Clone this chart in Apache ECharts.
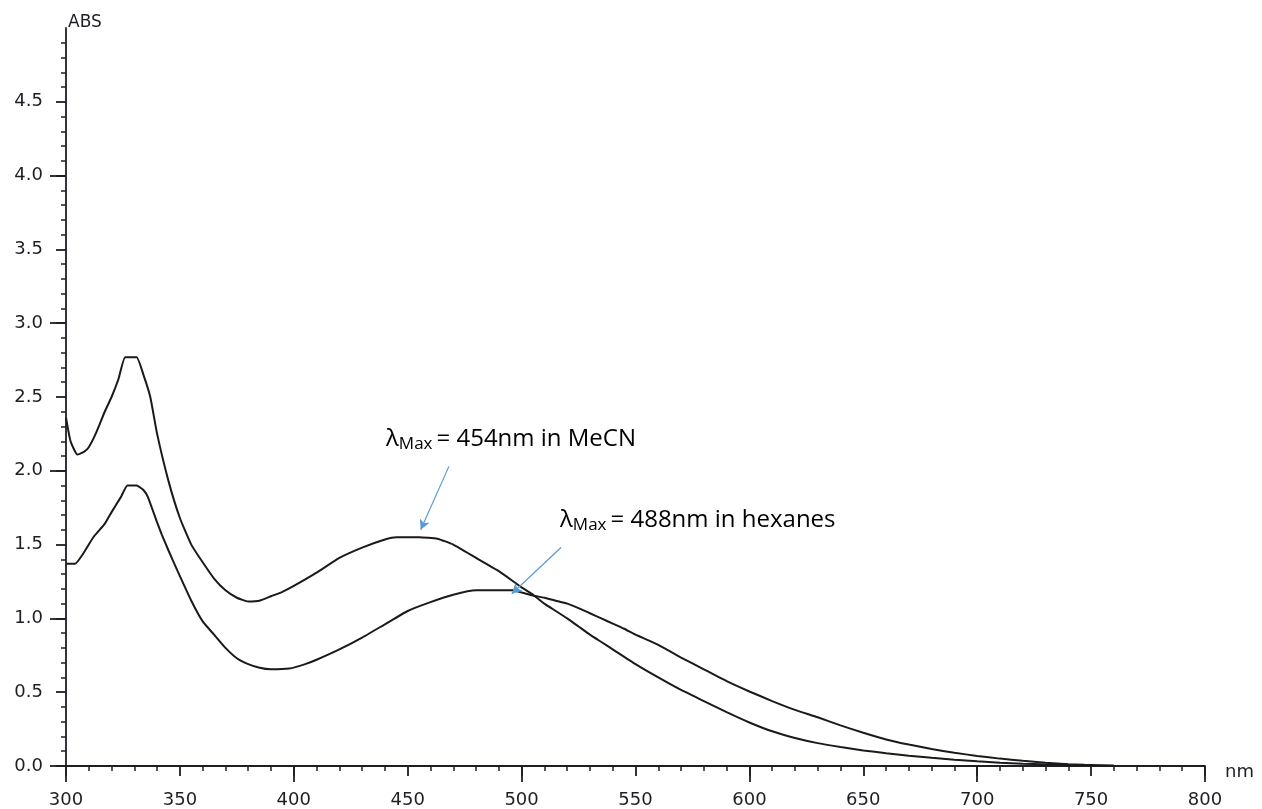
<!DOCTYPE html>
<html>
<head>
<meta charset="utf-8">
<script src="https://cdn.jsdelivr.net/npm/echarts@6/dist/echarts.min.js"></script>
<style>
html,body{margin:0;padding:0;background:#fff;}
#chart{width:1262px;height:809px;}
</style>
</head>
<body>
<div id="chart"></div>
<script>
// ---- data ----
const mecnNm  = [300,302,305,308,310,313,317,320,323,326,331,334,337,340,345,350,355,360,365,370,375,380,385,390,395,400,410,420,430,440,445,455,463,470,480,490,500,505,510,515,520,525,530,535,540,550,560,570,580,590,600,610,620,630,640,650,660,670,680,690,700,710,720,730,740,750,760];
const mecnAbs = [2.36,2.20,2.11,2.13,2.16,2.25,2.40,2.50,2.62,2.77,2.77,2.65,2.50,2.25,1.93,1.68,1.50,1.38,1.27,1.19,1.14,1.115,1.12,1.15,1.18,1.22,1.31,1.41,1.48,1.535,1.55,1.55,1.54,1.50,1.41,1.32,1.21,1.16,1.10,1.05,1.00,0.945,0.89,0.84,0.79,0.69,0.60,0.515,0.44,0.365,0.295,0.235,0.19,0.155,0.128,0.105,0.087,0.07,0.056,0.043,0.032,0.022,0.015,0.011,0.008,0.006,0.003];

const hexNm  = [300,304,308,312,317,320,324,327,331,334,336,340,342,345,349,355,360,365,370,375,380,385,390,398,405,410,420,430,440,450,460,470,480,490,496,500,505,510,515,520,525,530,535,540,545,550,556,560,570,580,590,600,610,620,630,640,650,660,670,680,690,700,710,720,730,740,747];
const hexAbs = [1.37,1.37,1.45,1.55,1.64,1.72,1.82,1.90,1.90,1.87,1.82,1.65,1.57,1.46,1.32,1.12,0.98,0.89,0.80,0.73,0.69,0.665,0.655,0.66,0.69,0.72,0.79,0.87,0.96,1.05,1.11,1.16,1.19,1.19,1.19,1.175,1.155,1.14,1.12,1.10,1.07,1.035,1.00,0.965,0.93,0.89,0.85,0.82,0.735,0.655,0.575,0.505,0.44,0.38,0.33,0.275,0.225,0.18,0.145,0.115,0.09,0.068,0.05,0.035,0.022,0.012,0.008];

const xTicksMajor = [300,400,500,600,700,800];
const yTicks = [0,0.5,1,1.5,2,2.5,3,3.5,4,4.5];
const yTicksMajor = [0,1,2,3,4];

// annotation arrows (data coordinates: [nm, abs])
const arrowMeCN = [[468.1, 2.03], [455.7, 1.60]];
const arrowHex  = [[517.3, 1.48], [495.7, 1.167]];
const labelMeCN = ['λ', 'Max', '= 454nm in MeCN'];
const labelHex  = ['λ', 'Max', '= 488nm in hexanes'];

// ---- chart ----
const INK = '#1e1e24';
const chart = echarts.init(document.getElementById('chart'), null, {renderer: 'canvas'});

function pairs(xs, ys) { return xs.map((x, i) => [x, ys[i]]); }

const richStyle = {
  l: {fontFamily: '"Open Sans", sans-serif', fontSize: 24, lineHeight: 28, color: '#111'},
  s: {fontFamily: '"Open Sans", sans-serif', fontSize: 17, lineHeight: 14, verticalAlign: 'bottom', color: '#111', padding: [0, 4, 0, 0]},
  m: {fontFamily: '"Open Sans", sans-serif', fontSize: 24, lineHeight: 28, color: '#111'}
};
function richText(parts) { return '{l|' + parts[0] + '}{s|' + parts[1] + '}{m|' + parts[2] + '}'; }

const arrowLine = (pts) => [{coord: pts[0]}, {coord: pts[1]}];

const baseX = {
  type: 'value', min: 300, max: 800, position: 'bottom',
  splitLine: {show: false}
};
const baseY = {
  type: 'value', min: 0, max: 5, position: 'left',
  splitLine: {show: false}
};

const option = {
  animation: false,
  backgroundColor: '#fff',
  grid: {left: 66, right: 57, top: 28, bottom: 43, containLabel: false},
  xAxis: [
    Object.assign({}, baseX, {
      interval: 50,
      name: 'nm', nameLocation: 'end', nameGap: 20,
      nameTextStyle: {fontFamily: '"DejaVu Sans", sans-serif', fontSize: 18, lineHeight: 12, color: INK, verticalAlign: 'top'},
      axisLine: {show: true, onZero: false, lineStyle: {color: INK, width: 1.8}},
      axisTick: {show: true, length: 10, lineStyle: {color: INK, width: 1.8}},
      minorTick: {show: true, splitNumber: 5, length: 5, lineStyle: {color: INK, width: 1.5}},
      axisLabel: {show: true, margin: 25, fontFamily: '"DejaVu Sans", sans-serif', fontSize: 18, color: INK}
    }),
    Object.assign({}, baseX, {
      interval: 100,
      axisLine: {show: false, onZero: false},
      axisTick: {show: true, length: 16, customValues: xTicksMajor, lineStyle: {color: INK, width: 1.8}},
      axisLabel: {show: false}
    })
  ],
  yAxis: [
    Object.assign({}, baseY, {
      interval: 0.5,
      name: 'ABS', nameLocation: 'end', nameGap: -3,
      nameTextStyle: {fontFamily: '"DejaVu Sans", sans-serif', fontSize: 17, color: INK, align: 'left', verticalAlign: 'bottom', padding: [0, 0, 0, 2]},
      axisLine: {show: true, onZero: false, lineStyle: {color: INK, width: 1.8}},
      axisTick: {show: true, length: 10, customValues: yTicks, lineStyle: {color: INK, width: 1.8}},
      minorTick: {show: true, splitNumber: 5, length: 5, lineStyle: {color: INK, width: 1.5}},
      axisLabel: {show: true, margin: 23, customValues: yTicks, fontFamily: '"DejaVu Sans", sans-serif', fontSize: 18, color: INK,
        formatter: (v) => Number(v).toFixed(1)}
    }),
    Object.assign({}, baseY, {
      interval: 1,
      axisLine: {show: false, onZero: false},
      axisTick: {show: true, length: 16, customValues: yTicksMajor, lineStyle: {color: INK, width: 1.8}},
      axisLabel: {show: false}
    })
  ],
  series: [
    {
      name: 'MeCN', type: 'line', xAxisIndex: 0, yAxisIndex: 0,
      data: pairs(mecnNm, mecnAbs),
      showSymbol: false, smooth: 0.15,
      lineStyle: {color: '#1a1a1a', width: 2},
      markLine: {
        silent: true, symbol: ['none', 'arrow'], symbolSize: [8, 10],
        label: {show: false},
        lineStyle: {color: '#5b9bd5', width: 1.2, type: 'solid'},
        data: [arrowLine(arrowMeCN), arrowLine(arrowHex)]
      }
    },
    {
      name: 'hexanes', type: 'line', xAxisIndex: 0, yAxisIndex: 0,
      data: pairs(hexNm, hexAbs),
      showSymbol: false, smooth: 0.15,
      lineStyle: {color: '#1a1a1a', width: 2}
    }
  ],
  graphic: [
    {type: 'text', x: 386, y: 425, style: {text: richText(labelMeCN), rich: richStyle, align: 'left', verticalAlign: 'top'}},
    {type: 'text', x: 560, y: 506, style: {text: richText(labelHex), rich: richStyle, align: 'left', verticalAlign: 'top'}}
  ]
};
chart.setOption(option);
</script>
</body>
</html>
